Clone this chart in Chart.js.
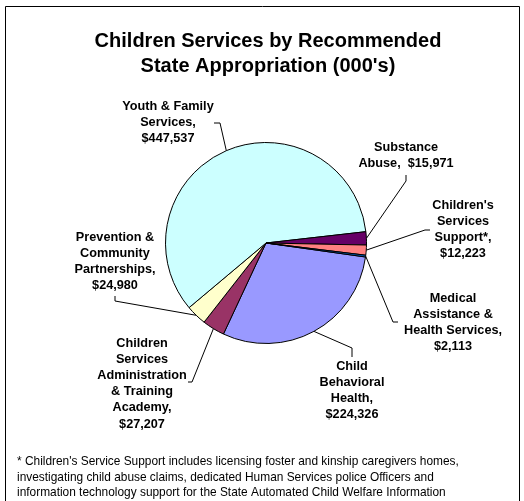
<!DOCTYPE html>
<html>
<head>
<meta charset="utf-8">
<script src="https://cdn.jsdelivr.net/npm/chart.js@4.4.1/dist/chart.umd.min.js"></script>
<style>
  html, body { margin: 0; padding: 0; background: #fff; }
  #wrap { width: 524px; height: 501px; position: relative; }
</style>
</head>
<body>
<div id="wrap"><canvas id="chart" width="524" height="501"></canvas></div>
<script>
// data, in the order the slices are drawn (clockwise)
const categories = [
  'Child Behavioral Health',
  'Children Services Administration & Training Academy',
  'Prevention & Community Partnerships',
  'Youth & Family Services',
  'Substance Abuse',
  "Children's Services Support*",
  'Medical Assistance & Health Services',
];
const values = [224326, 27207, 24980, 447537, 15971, 12223, 2113];
const sliceColors = ['#9999FF', '#993366', '#FFFFCC', '#CCFFFF', '#660066', '#FF8080', '#0066CC'];

// label wording, split the way it wraps
const nameLines = [
  ['Child', 'Behavioral', 'Health,'],
  ['Children', 'Services', 'Administration', '& Training', 'Academy,'],
  ['Prevention &', 'Community', 'Partnerships,'],
  ['Youth & Family', 'Services,'],
  ['Substance', 'Abuse,'],
  ["Children's", 'Services', 'Support*,'],
  ['Medical', 'Assistance &', 'Health Services,'],
];
const valueOnSameLine = [false, false, false, false, true, false, false];

const titleLines = ['Children Services by Recommended', "State Appropriation (000's)"];
const footnoteLines = [
  "* Children's Service Support includes licensing foster and kinship caregivers homes,",
  'investigating child abuse claims, dedicated Human Services police Officers and',
  'information technology support for the State Automated Child Welfare Information',
];

const fmt = (v) => '$' + v.toLocaleString('en-US');

function labelFor(i) {
  const lines = nameLines[i].slice();
  if (valueOnSameLine[i]) lines[lines.length - 1] += '  ' + fmt(values[i]);
  else lines.push(fmt(values[i]));
  return lines;
}

// where each label sits and how its leader line bends before reaching the slice
const labelLayout = [
  { x: 352, y: 366, leader: [[352, 357], [352, 348]] },
  { x: 142, y: 343, leader: [[188, 382], [192, 382]] },
  { x: 115, y: 237, leader: [[115, 296], [115, 301]] },
  { x: 168, y: 106, leader: [[214, 123], [220, 123]] },
  { x: 406, y: 147, leader: [[406, 175], [406, 181]] },
  { x: 463, y: 205, leader: [[430, 230], [425, 230]] },
  { x: 453, y: 298, leader: [[398, 322], [393, 322]] },
];

const FONT = '"Liberation Sans", Arial, sans-serif';

const decorations = {
  id: 'decorations',
  beforeDraw(chart) {
    const ctx = chart.ctx;
    ctx.save();
    ctx.fillStyle = '#fff';
    ctx.fillRect(0, 0, chart.width, chart.height);
    ctx.strokeStyle = '#000';
    ctx.lineWidth = 1;
    ctx.beginPath();
    ctx.moveTo(5.5, chart.height);
    ctx.lineTo(5.5, 6.5);
    ctx.lineTo(519.5, 6.5);
    ctx.lineTo(519.5, chart.height);
    ctx.stroke();
    ctx.restore();
  },
  afterDraw(chart) {
    const ctx = chart.ctx;
    const arcs = chart.getDatasetMeta(0).data;
    ctx.save();

    // title
    ctx.fillStyle = '#000';
    ctx.textAlign = 'center';
    ctx.textBaseline = 'middle';
    ctx.font = 'bold 20px ' + FONT;
    titleLines.forEach((t, i) => ctx.fillText(t, 268, 41 + i * 25));

    // leader lines
    ctx.strokeStyle = '#000';
    ctx.lineWidth = 1;
    arcs.forEach((arc, i) => {
      const mid = (arc.startAngle + arc.endAngle) / 2;
      const ex = arc.x + Math.cos(mid) * arc.outerRadius;
      const ey = arc.y + Math.sin(mid) * arc.outerRadius;
      const pts = labelLayout[i].leader;
      ctx.beginPath();
      ctx.moveTo(pts[0][0], pts[0][1]);
      for (let k = 1; k < pts.length; k++) ctx.lineTo(pts[k][0], pts[k][1]);
      ctx.lineTo(ex, ey);
      ctx.stroke();
    });

    // slice labels
    ctx.font = 'bold 12.7px ' + FONT;
    arcs.forEach((arc, i) => {
      const pos = labelLayout[i];
      labelFor(i).forEach((line, k) => ctx.fillText(line, pos.x, pos.y + k * 16.2));
    });

    // footnote
    ctx.textAlign = 'left';
    ctx.font = '11.9px ' + FONT;
    footnoteLines.forEach((t, i) => ctx.fillText(t, 17, 462 + i * 15.3));

    ctx.restore();
  },
};

new Chart(document.getElementById('chart').getContext('2d'), {
  type: 'pie',
  data: {
    labels: categories,
    datasets: [
      {
        data: values,
        backgroundColor: sliceColors,
        borderColor: '#000',
        borderWidth: 1,
      },
    ],
  },
  options: {
    responsive: false,
    animation: false,
    rotation: 98,
    layout: { padding: { left: 165, right: 157, top: 142, bottom: 157 } },
    plugins: {
      legend: { display: false },
      tooltip: { enabled: false },
    },
  },
  plugins: [decorations],
});
</script>
</body>
</html>
